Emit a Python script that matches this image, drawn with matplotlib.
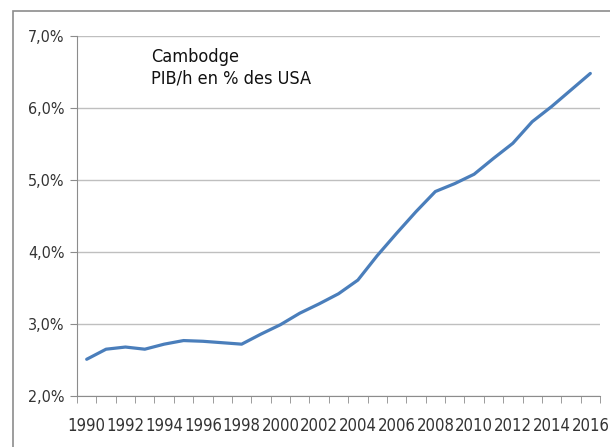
import matplotlib.pyplot as plt
import numpy as np
from matplotlib.patches import Rectangle
from matplotlib.ticker import FuncFormatter, FixedLocator

plt.rcParams['font.family'] = ['DejaVu Sans']
plt.rcParams['font.stretch'] = 'condensed'

years = list(range(1990, 2017))
gdp_share = [2.51, 2.65, 2.68, 2.65, 2.72, 2.77, 2.76, 2.74, 2.72, 2.86, 2.99,
             3.15, 3.28, 3.42, 3.61, 3.95, 4.26, 4.56, 4.84, 4.95, 5.08,
             5.30, 5.51, 5.81, 6.02, 6.25, 6.48]
y_ticks = [2.0, 3.0, 4.0, 5.0, 6.0, 7.0]
title_lines = ['Cambodge', 'PIB/h en % des USA']

fig = plt.figure(figsize=(6.1, 4.47), dpi=100)
# outer chart border
fig.patches.append(Rectangle((13 / 610, -0.1), 1.2, 1 - 11 / 447 + 0.1,
                             transform=fig.transFigure, fill=False,
                             edgecolor='#8c8c8c', linewidth=1.2))

ax = fig.add_axes([77 / 610, 1 - 396 / 447, 523 / 610, 360 / 447])

x = np.arange(len(years))
ax.plot(x, gdp_share, color='#4a7ebb', linewidth=2.3, solid_capstyle='round')

ax.set_xlim(-0.5, len(years) - 0.5)
ax.set_ylim(2.0, 7.0)

ax.set_yticks(y_ticks)
ax.yaxis.set_major_formatter(FuncFormatter(lambda v, p: f'{v:.1f}%'.replace('.', ',')))
ax.grid(axis='y', color='#bfbfbf', linewidth=1)
ax.set_axisbelow(True)

ax.set_xticks(x[::2])
ax.set_xticklabels([str(y) for y in years[::2]])
ax.xaxis.set_minor_locator(FixedLocator(np.arange(-0.5, len(years), 1)))
ax.tick_params(axis='x', which='major', length=0, pad=15, labelsize=12, colors='#333333')
ax.tick_params(axis='x', which='minor', length=5, color='#8c8c8c', direction='out')
ax.tick_params(axis='y', length=5, color='#8c8c8c', labelsize=11.5, colors='#333333', pad=4)
ax.tick_params(axis='y', color='#8c8c8c')

for side in ['top', 'right']:
    ax.spines[side].set_visible(False)
for side in ['left', 'bottom']:
    ax.spines[side].set_color('#8c8c8c')

ax.text(0.141, 0.928, title_lines[0], transform=ax.transAxes, fontsize=13,
        color='#111111', va='baseline')
ax.text(0.141, 0.869, title_lines[1], transform=ax.transAxes, fontsize=13,
        color='#111111', va='baseline')

fig.savefig('out.png', dpi=100)
